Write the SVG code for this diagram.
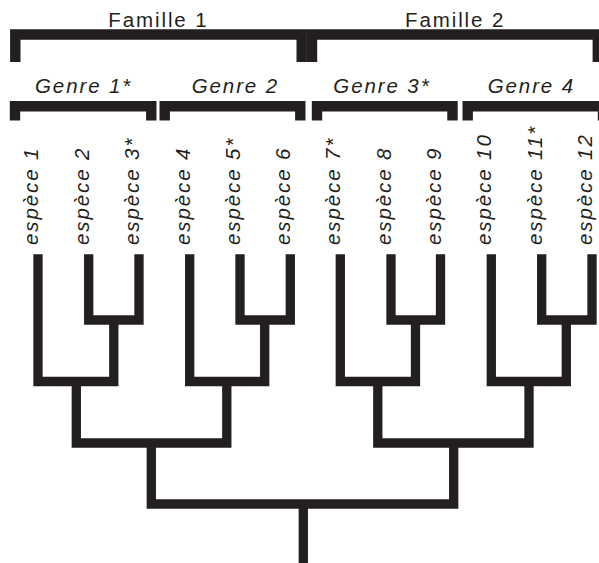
<svg xmlns="http://www.w3.org/2000/svg" width="599" height="563" viewBox="0 0 599 563">
<style>
  .bg{fill:#ffffff}
  .lbl{font-family:"Liberation Sans",Arial,sans-serif;font-size:20.5px;fill:#231f20;letter-spacing:1.9px}
  .it{font-style:italic}
  .br{fill:none;stroke:#231f20;stroke-width:10.4;stroke-linejoin:miter;stroke-linecap:butt}
  .tree{fill:none;stroke:#231f20;stroke-width:9.3;stroke-linejoin:miter;stroke-linecap:butt}
</style>
<rect class="bg" x="0" y="0" width="599" height="563"/>

<g id="famille1">
  <path class="br" d="M15.3,62 V34.5 H301.7 V62"/>
  <text class="lbl" x="108.3" y="27">Famille 1</text>
</g>
<g id="famille2">
  <path class="br" d="M312,62 V34.5 H597.8 V62"/>
  <text class="lbl" x="405" y="27">Famille 2</text>
</g>

<g id="genre1">
  <path class="br" d="M15,120.5 V106.3 H151.3 V120.5"/>
  <text class="lbl it" x="35" y="93">Genre 1*</text>
</g>
<g id="genre2">
  <path class="br" d="M164.7,120.5 V106.3 H300.3 V120.5"/>
  <text class="lbl it" x="191.7" y="93">Genre 2</text>
</g>
<g id="genre3">
  <path class="br" d="M317,120.5 V106.3 H452.5 V120.5"/>
  <text class="lbl it" x="333.3" y="93">Genre 3*</text>
</g>
<g id="genre4">
  <path class="br" d="M467.7,120.5 V106.3 H603 V120.5"/>
  <text class="lbl it" x="487.7" y="93">Genre 4</text>
</g>

<g id="sp1"><text class="lbl it" transform="translate(38,245) rotate(-90)">espèce 1</text></g>
<g id="sp2"><text class="lbl it" transform="translate(88.7,245) rotate(-90)">espèce 2</text></g>
<g id="sp3"><text class="lbl it" transform="translate(139,245) rotate(-90)">espèce 3*</text></g>
<g id="sp4"><text class="lbl it" transform="translate(189.7,245) rotate(-90)">espèce 4</text></g>
<g id="sp5"><text class="lbl it" transform="translate(240,245) rotate(-90)">espèce 5*</text></g>
<g id="sp6"><text class="lbl it" transform="translate(290.3,245) rotate(-90)">espèce 6</text></g>
<g id="sp7"><text class="lbl it" transform="translate(340.3,245) rotate(-90)">espèce 7*</text></g>
<g id="sp8"><text class="lbl it" transform="translate(391,245) rotate(-90)">espèce 8</text></g>
<g id="sp9"><text class="lbl it" transform="translate(440.5,245) rotate(-90)">espèce 9</text></g>
<g id="sp10"><text class="lbl it" transform="translate(491.3,245) rotate(-90)">espèce 10</text></g>
<g id="sp11"><text class="lbl it" transform="translate(541.7,245) rotate(-90)">espèce 11*</text></g>
<g id="sp12"><text class="lbl it" transform="translate(592,245) rotate(-90)">espèce 12</text></g>

<g id="connectors">
  <path class="tree" d="M88.7,254.3 V320 H139 V254.3"/>
  <path class="tree" d="M38,254.3 V381.5 H113.8 V320"/>
  <path class="tree" d="M240,254.3 V320 H290.3 V254.3"/>
  <path class="tree" d="M189.7,254.3 V381.5 H264.7 V320"/>
  <path class="tree" d="M391,254.3 V320 H440.5 V254.3"/>
  <path class="tree" d="M340.3,254.3 V381.5 H415.5 V320"/>
  <path class="tree" d="M541.7,254.3 V320 H592 V254.3"/>
  <path class="tree" d="M491.3,254.3 V381.5 H566.3 V320"/>
  <path class="tree" d="M76.3,381.5 V443 H226.8 V381.5"/>
  <path class="tree" d="M377.8,381.5 V443 H529 V381.5"/>
  <path class="tree" d="M151.3,443 V504 H453.7 V443"/>
  <path class="tree" d="M303.3,504 V563"/>
</g>
</svg>
